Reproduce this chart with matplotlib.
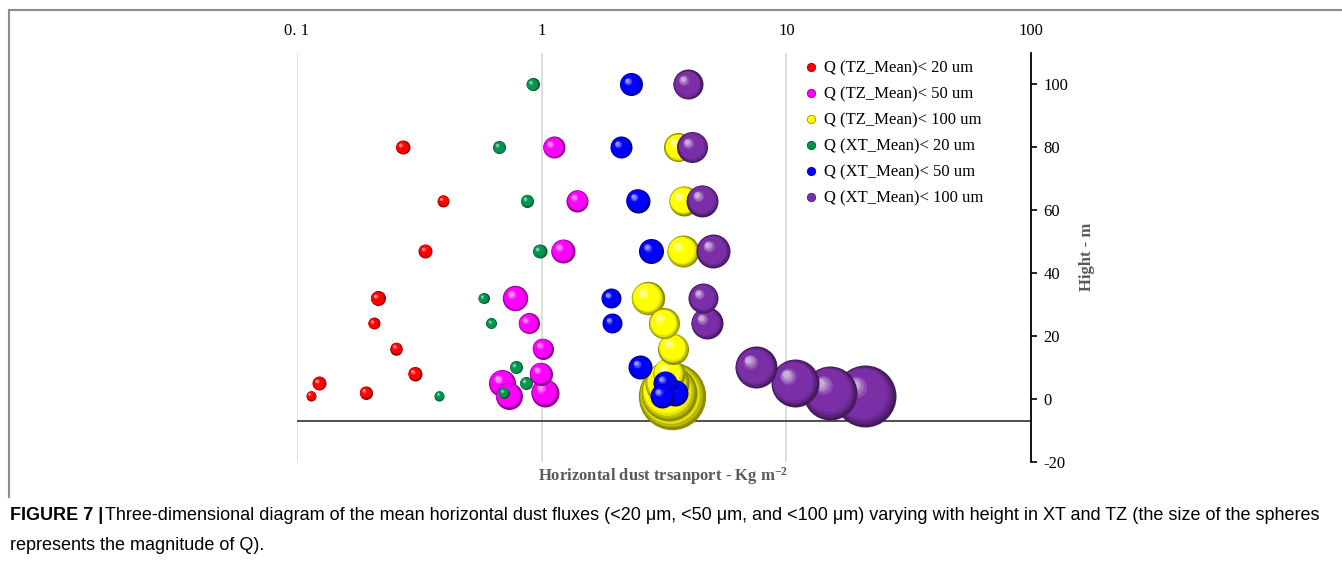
import numpy as np
import matplotlib.pyplot as plt
from matplotlib.colors import to_rgb
from matplotlib.lines import Line2D
from matplotlib.transforms import ScaledTranslation

# heights (m) of the two sites
h_tz = [1, 2, 5, 8, 16, 24, 32, 47, 63, 80]
h_xt = [1, 2, 5, 10, 24, 32, 47, 63, 80, 100]

# horizontal dust transport Q (kg m-2)
q_tz20 = [0.114, 0.191, 0.123, 0.303, 0.255, 0.206, 0.214, 0.335, 0.396, 0.270]
q_tz50 = [0.733, 1.03, 0.689, 0.99, 1.01, 0.884, 0.78, 1.22, 1.40, 1.118]
q_tz100 = [3.4, 3.3, 3.25, 3.3, 3.45, 3.17, 2.71, 3.77, 3.80, 3.62]
q_xt20 = [0.382, 0.699, 0.863, 0.785, 0.623, 0.579, 0.98, 0.871, 0.671, 0.918]
q_xt50 = [3.10, 3.51, 3.20, 2.53, 1.94, 1.92, 2.80, 2.47, 2.11, 2.32]
q_xt100 = [20.9, 15.1, 10.8, 7.52, 4.73, 4.58, 5.03, 4.54, 4.13, 3.96]

# bubble magnitude (relative)
b_tz20 = [2.6, 4.4, 5.1, 5.1, 4.1, 3.7, 5.9, 5.1, 3.7, 5.1]
b_tz50 = [19.0, 20.4, 19.0, 13.8, 11.5, 11.5, 16.8, 15.0, 12.6, 12.6]
b_tz100 = [118, 81.6, 50.4, 26.6, 25.0, 25.0, 29.0, 26.6, 23.4, 21.9]
b_xt20 = [2.6, 3.1, 4.4, 4.4, 3.1, 3.1, 5.1, 4.4, 4.4, 4.4]
b_xt50 = [15.0, 17.6, 15.0, 15.0, 10.4, 10.4, 16.3, 15.0, 12.6, 13.8]
b_xt100 = [100, 75.9, 59.9, 45.9, 26.6, 23.4, 30.1, 26.6, 25.0, 23.4]

labels = ["Q (TZ_Mean)< 20 um", "Q (TZ_Mean)< 50 um", "Q (TZ_Mean)< 100 um",
          "Q (XT_Mean)< 20 um", "Q (XT_Mean)< 50 um", "Q (XT_Mean)< 100 um"]
colors = ["#ff0000", "#ff00ff", "#ffff00", "#00954f", "#0000ff", "#7a2fa6"]

series = [(q_tz20, h_tz, b_tz20), (q_tz50, h_tz, b_tz50), (q_tz100, h_tz, b_tz100),
          (q_xt20, h_xt, b_xt20), (q_xt50, h_xt, b_xt50), (q_xt100, h_xt, b_xt100)]

serif = "Liberation Serif"
cap_font = "Liberation Sans"

fig = plt.figure(figsize=(13.42, 5.73), dpi=100)
W, H = 1342, 573
ax = fig.add_axes([297 / W, 1 - 461.7 / H, (1031 - 297) / W, (461.7 - 53) / H])
ax.set_xscale("log")
ax.set_xlim(0.1, 100)
ax.set_ylim(-20, 110)


def sphere(x, y, r_pt, color):
    base = np.array(to_rgb(color))
    dark = base * 0.55
    light = base + (1 - base) * 0.6
    n = 14
    for i in range(n):
        t = i / (n - 1)
        rr = r_pt * (1 - 0.85 * t)
        off = 0.36 * r_pt * t / 72
        tr = ax.transData + ScaledTranslation(-off, off, fig.dpi_scale_trans)
        if t < 0.2:
            c = dark + (base - dark) * (t / 0.2)
        elif t < 0.7:
            c = base
        else:
            c = base + (light - base) * ((t - 0.7) / 0.3)
        ax.scatter([x], [y], s=(2 * rr) ** 2, color=[np.clip(c, 0, 1)],
                   transform=tr, zorder=3, linewidths=0)


for (q, h, b), col in zip(series, colors):
    order = np.argsort(b)[::-1]  # big ones behind
    for k in order:
        sphere(q[k], h[k], 2.232 * np.sqrt(b[k]), col)

for gx in [0.1, 1, 10]:
    ax.axvline(gx, color="#d9d9d9", lw=1.2, zorder=0)
ax.axhline(-7, color="#404040", lw=1.3, zorder=1)

for s in ["top", "left", "bottom"]:
    ax.spines[s].set_visible(False)
ax.spines["right"].set_linewidth(1.3)

ax.xaxis.tick_top()
ax.set_xticks([0.1, 1, 10, 100])
ax.set_xticklabels(["0. 1", "1", "10", "100"], fontfamily=serif, fontsize=12)
ax.xaxis.set_minor_locator(plt.NullLocator())
ax.tick_params(axis="x", length=0, pad=10)

ax.yaxis.tick_right()
ax.set_yticks([-20, 0, 20, 40, 60, 80, 100])
ax.set_yticklabels([str(v) for v in [-20, 0, 20, 40, 60, 80, 100]],
                   fontfamily=serif, fontsize=12)
ax.tick_params(axis="y", direction="out", length=4, width=1.2, pad=5)
ax.yaxis.set_label_position("right")
ax.set_ylabel("Hight - m", fontfamily=serif, fontweight="bold", fontsize=12,
              color="#595959", labelpad=8)

fig.text(663 / W, 1 - 476 / H, r"Horizontal dust trsanport - Kg m$\mathregular{^{-2}}$",
         fontfamily=serif, fontweight="bold", fontsize=12, color="#595959",
         ha="center", va="center")

handles = [Line2D([], [], ls="", marker="o", ms=6, color=c,
                  markeredgecolor=np.array(to_rgb(c)) * 0.6, markeredgewidth=0.6)
           for c in colors]
fig.legend(handles, labels, loc="upper left", bbox_to_anchor=(806 / W, 1 - 60.5 / H),
           frameon=False, borderpad=0, borderaxespad=0, handlelength=0.6,
           handletextpad=0.5, labelspacing=0.6,
           prop={"family": serif, "size": 12})

# frame
fig.add_artist(Line2D([9 / W, 1], [1 - 10 / H] * 2, transform=fig.transFigure,
                      color="#8c8c8c", lw=1.5))
fig.add_artist(Line2D([9 / W, 9 / W], [1 - 10 / H, 1 - 497 / H],
                      transform=fig.transFigure, color="#8c8c8c", lw=1.5))

# caption
t1 = fig.text(10 / W, 1 - 516 / H, "FIGURE 7 |", fontfamily=cap_font,
              fontweight="bold", fontsize=13, va="center")
fig.canvas.draw()
bb = t1.get_window_extent()
fig.text((bb.x1 + 2) / W, 1 - 516 / H,
         "Three-dimensional diagram of the mean horizontal dust fluxes (<20 μm, <50 μm, "
         "and <100 μm) varying with height in XT and TZ (the size of the spheres",
         fontfamily=cap_font, fontsize=13, va="center")
fig.text(10 / W, 1 - 545 / H, "represents the magnitude of Q).",
         fontfamily=cap_font, fontsize=13, va="center")

fig.savefig("out.png", dpi=100)
